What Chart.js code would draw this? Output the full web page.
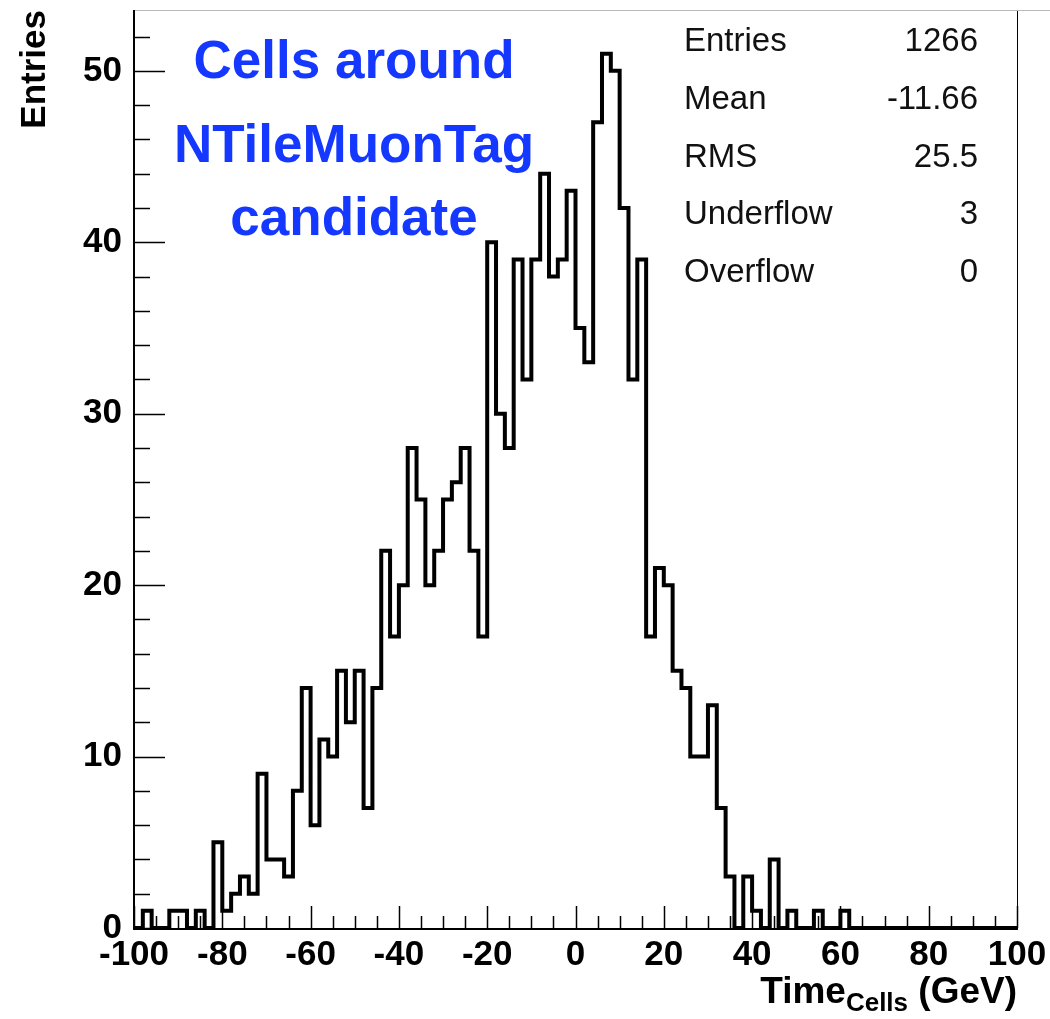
<!DOCTYPE html>
<html><head><meta charset="utf-8">
<script src="https://cdn.jsdelivr.net/npm/chart.js@4.4.1/dist/chart.umd.min.js"></script>
<style>html,body{margin:0;padding:0;background:#fff;}#wrap{width:1050px;height:1019px;position:relative;}</style>
</head><body><div id="wrap"><canvas id="c" width="1050" height="1019"></canvas></div>
<script>
// ---- data ----
const xMin = -100, xMax = 100, binWidth = 2;
const counts = [
  0,1,0,0,1,1,0,1,0,5,
  1,2,3,2,9,4,4,3,8,14,
  6,11,10,15,12,15,7,14,22,17,
  20,28,25,20,22,25,26,28,22,17,
  40,30,28,39,32,39,44,38,39,43,
  35,33,47,51,50,42,32,39,17,21,
  20,15,14,10,10,13,7,3,0,3,
  1,0,4,0,1,0,0,1,0,0,
  1,0,0,0,0,0,0,0,0,0,
  0,0,0,0,0,0,0,0,0,0
];
const xTickValues = [-100,-80,-60,-40,-20,0,20,40,60,80,100];
const yTickValues = [0,10,20,30,40,50];
const yMaxValue = 53.55;
const statsLabels = ['Entries','Mean','RMS','Underflow','Overflow'];
const statsValues = ['1266','-11.66','25.5','3','0'];
const noteLines = ['Cells around','NTileMuonTag','candidate'];
const yTitle = 'Entries';
const xTitleMain = 'Time', xTitleSub = 'Cells', xTitleUnit = ' (GeV)';

// ---- build step points from bins (left edge of each bin + final right edge) ----
const points = counts.map((v, i) => ({x: xMin + i * binWidth, y: v}));
points.push({x: xMax, y: counts[counts.length - 1]});

const FONT = "'Liberation Sans', Arial, Helvetica, sans-serif";

const decor = {
  id: 'decor',
  afterDraw(chart) {
    const ctx = chart.ctx;
    const a = chart.chartArea;
    const xs = chart.scales.x, ys = chart.scales.y;
    ctx.save();
    // frame
    ctx.strokeStyle = '#000';
    ctx.lineWidth = 1;
    ctx.beginPath();
    ctx.moveTo(a.right + 0.5, a.bottom); ctx.lineTo(a.right + 0.5, a.top);
    ctx.stroke();
    ctx.strokeStyle = '#bbb';
    ctx.beginPath();
    ctx.moveTo(a.left, a.top + 0.5); ctx.lineTo(chart.width, a.top + 0.5);
    ctx.stroke();
    ctx.strokeStyle = '#000';
    ctx.lineWidth = 2;
    ctx.beginPath();
    ctx.moveTo(a.left, a.top); ctx.lineTo(a.left, a.bottom + 1);
    ctx.lineTo(a.right + 1, a.bottom + 1);
    ctx.stroke();
    // x ticks (inward)
    ctx.lineWidth = 1.5;
    for (let v = xMin; v <= xMax; v += 5) {
      const px = Math.round(xs.getPixelForValue(v)) + 0.5;
      const len = (v % 20 === 0) ? 22 : 12;
      ctx.beginPath(); ctx.moveTo(px, a.bottom); ctx.lineTo(px, a.bottom - len); ctx.stroke();
    }
    // y ticks (inward)
    for (let v = 0; v <= yMaxValue; v += 2) {
      const py = Math.round(ys.getPixelForValue(v)) + 0.5;
      const len = (v % 10 === 0) ? 31 : 16;
      ctx.beginPath(); ctx.moveTo(a.left, py); ctx.lineTo(a.left + len, py); ctx.stroke();
    }
    // y title
    ctx.fillStyle = '#000';
    ctx.save();
    ctx.translate(45, a.top);
    ctx.rotate(-Math.PI / 2);
    ctx.font = 'bold 35px ' + FONT;
    ctx.textAlign = 'right';
    ctx.textBaseline = 'alphabetic';
    ctx.fillText(yTitle, 0, 0);
    ctx.restore();
    // x title
    const bigF = 'bold 37px ' + FONT, subF = 'bold 26px ' + FONT;
    ctx.textBaseline = 'alphabetic';
    ctx.textAlign = 'left';
    ctx.font = bigF;
    const wMain = ctx.measureText(xTitleMain).width;
    const wUnit = ctx.measureText(xTitleUnit).width;
    ctx.font = subF;
    const wSub = ctx.measureText(xTitleSub).width;
    let x0 = a.right - wMain - wSub - wUnit;
    const base = 1003;
    ctx.font = bigF;
    ctx.fillText(xTitleMain, x0, base);
    ctx.font = subF;
    ctx.fillText(xTitleSub, x0 + wMain, base + 8);
    ctx.font = bigF;
    ctx.fillText(xTitleUnit, x0 + wMain + wSub, base);
    // stats
    ctx.fillStyle = '#111';
    ctx.font = '33px ' + FONT;
    ctx.textBaseline = 'middle';
    statsLabels.forEach((s, i) => {
      const y = 42 + i * 57.8;
      ctx.textAlign = 'left';
      ctx.fillText(s, 684, y);
      ctx.textAlign = 'right';
      ctx.fillText(statsValues[i], 978, y);
    });
    // note
    ctx.fillStyle = '#1438ff';
    ctx.font = 'bold 53px ' + FONT;
    ctx.textAlign = 'center';
    const noteY = [63, 147, 220];
    noteLines.forEach((s, i) => ctx.fillText(s, 354, noteY[i]));
    ctx.restore();
  }
};

function fixPad(s) { s.paddingTop = 0; s.paddingBottom = 0; s.paddingLeft = 0; s.paddingRight = 0; }

new Chart(document.getElementById('c'), {
  type: 'line',
  data: {
    datasets: [{
      data: points,
      stepped: 'before',
      borderColor: '#000',
      borderWidth: 4,
      pointRadius: 0,
      fill: false,
      tension: 0
    }]
  },
  options: {
    responsive: false,
    devicePixelRatio: 1,
    animation: false,
    layout: {padding: {top: 10, right: 33, left: 0, bottom: 0}},
    plugins: {legend: {display: false}, tooltip: {enabled: false}},
    scales: {
      x: {
        type: 'linear', min: xMin, max: xMax,
        grid: {display: false, drawTicks: false},
        border: {display: false},
        afterBuildTicks: s => { s.ticks = xTickValues.map(v => ({value: v})); },
        afterFit: s => { s.height = 91; fixPad(s); },
        ticks: {color: '#000', font: {family: FONT, weight: 'bold', size: 35}, padding: 6, maxRotation: 0, autoSkip: false}
      },
      y: {
        min: 0, max: yMaxValue,
        grid: {display: false, drawTicks: false},
        border: {display: false},
        afterBuildTicks: s => { s.ticks = yTickValues.map(v => ({value: v})); },
        afterFit: s => { s.width = 134; fixPad(s); },
        ticks: {color: '#000', font: {family: FONT, weight: 'bold', size: 35}, padding: 12, autoSkip: false}
      }
    }
  },
  plugins: [decor]
});
</script>
</body></html>
